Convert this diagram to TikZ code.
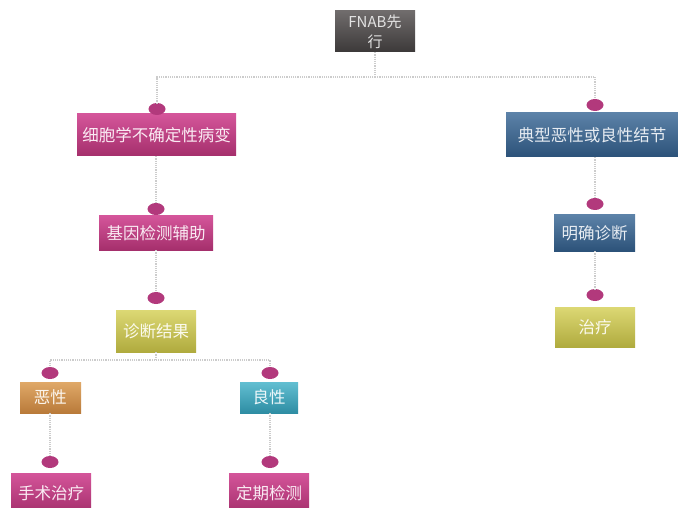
\documentclass[tikz,border=0pt]{standalone}
\usepackage{fontspec}
\setmainfont{Noto Sans CJK SC}
\usetikzlibrary{shapes.geometric}
\definecolor{mgT}{HTML}{D4559A}
\definecolor{mgB}{HTML}{A52F6C}
\definecolor{blT}{HTML}{5C82A8}
\definecolor{blB}{HTML}{2C5279}
\definecolor{ylT}{HTML}{DCD874}
\definecolor{ylB}{HTML}{B0AB3E}
\definecolor{orT}{HTML}{E0A968}
\definecolor{orB}{HTML}{B97A3A}
\definecolor{tlT}{HTML}{62BFD2}
\definecolor{tlB}{HTML}{2E8DA3}
\definecolor{gyT}{HTML}{706C6C}
\definecolor{gyB}{HTML}{3C3939}
\definecolor{dotc}{HTML}{B2397C}
\definecolor{linec}{HTML}{CCCCCC}
\tikzset{
  x=1pt,y=-1pt,
  box/.style={rectangle, inner sep=0pt,
    font=\fontsize{16.5}{19}\selectfont, align=center},
  mgbox/.style={box, top color=mgT, bottom color=mgB, text=white!88!mgT},
  blbox/.style={box, top color=blT, bottom color=blB, text=white!85!blT},
  ylbox/.style={box, top color=ylT, bottom color=ylB, text=white!88!ylT},
  orbox/.style={box, top color=orT, bottom color=orB, text=white!88!orT},
  tlbox/.style={box, top color=tlT, bottom color=tlB, text=white!88!tlT},
  gybox/.style={box, top color=gyT, bottom color=gyB, text=white!80!gyT,
    font=\fontsize{15}{20}\selectfont},
  dot/.style={ellipse, fill=dotc, minimum width=17pt, minimum height=12pt, inner sep=0pt},
  conn/.style={draw=linec, line width=1.2pt, densely dotted},
}
\begin{document}
\begin{tikzpicture}
\useasboundingbox[fill=white] (0,0) rectangle (678,508);
% boxes
\node[gybox, minimum width=80pt, minimum height=41pt] (fnab) at (375,31.5) {FNAB先\\行};
\node[mgbox, minimum width=159pt, minimum height=42pt] (cyt) at (156.5,135) {细胞学不确定性病变};
\node[blbox, minimum width=172pt, minimum height=44pt] (typ) at (592,135) {典型恶性或良性结节};
\node[mgbox, minimum width=114pt, minimum height=34pt] (gene) at (156,233) {基因检测辅助};
\node[ylbox, minimum width=80pt, minimum height=42pt] (diag) at (156,331) {诊断结果};
\node[orbox, minimum width=61pt, minimum height=31pt] (mal) at (50.5,397.5) {恶性};
\node[tlbox, minimum width=58pt, minimum height=31pt] (ben) at (269,397.5) {良性};
\node[mgbox, minimum width=80pt, minimum height=40pt] (surg) at (51,493) {手术治疗};
\node[mgbox, minimum width=80pt, minimum height=40pt] (reg) at (269,493) {定期检测};
\node[blbox, minimum width=81pt, minimum height=36pt] (clear) at (594.5,233) {明确诊断};
\node[ylbox, minimum width=80pt, minimum height=40pt] (treat) at (595,327) {治疗};
% dots
\node[dot] (d1) at (157,109) {};
\node[dot] (d2) at (595,105) {};
\node[dot] (d3) at (156,209) {};
\node[dot] (d4) at (156,298) {};
\node[dot] (d5) at (50,373) {};
\node[dot] (d6) at (270,373) {};
\node[dot] (d7) at (50,462) {};
\node[dot] (d8) at (270,462) {};
\node[dot] (d9) at (595,204) {};
\node[dot] (d10) at (595,295) {};
% junction coordinates
\coordinate (j1) at (375,77);
\coordinate (j2) at (156,360);
% connectors
\draw[conn] (fnab.south) -- (j1) -| (d1.north);
\draw[conn] (j1) -| (d2.north);
\draw[conn] (d3 |- cyt.south) -- (d3.north);
\draw[conn] (d4 |- gene.south) -- (d4.north);
\draw[conn] (diag.south) -- (j2) -| (d5.north);
\draw[conn] (j2) -| (d6.north);
\draw[conn] (d7 |- mal.south) -- (d7.north);
\draw[conn] (d8 |- ben.south) -- (d8.north);
\draw[conn] (d9 |- typ.south) -- (d9.north);
\draw[conn] (d10 |- clear.south) -- (d10.north);
\end{tikzpicture}
\end{document}
